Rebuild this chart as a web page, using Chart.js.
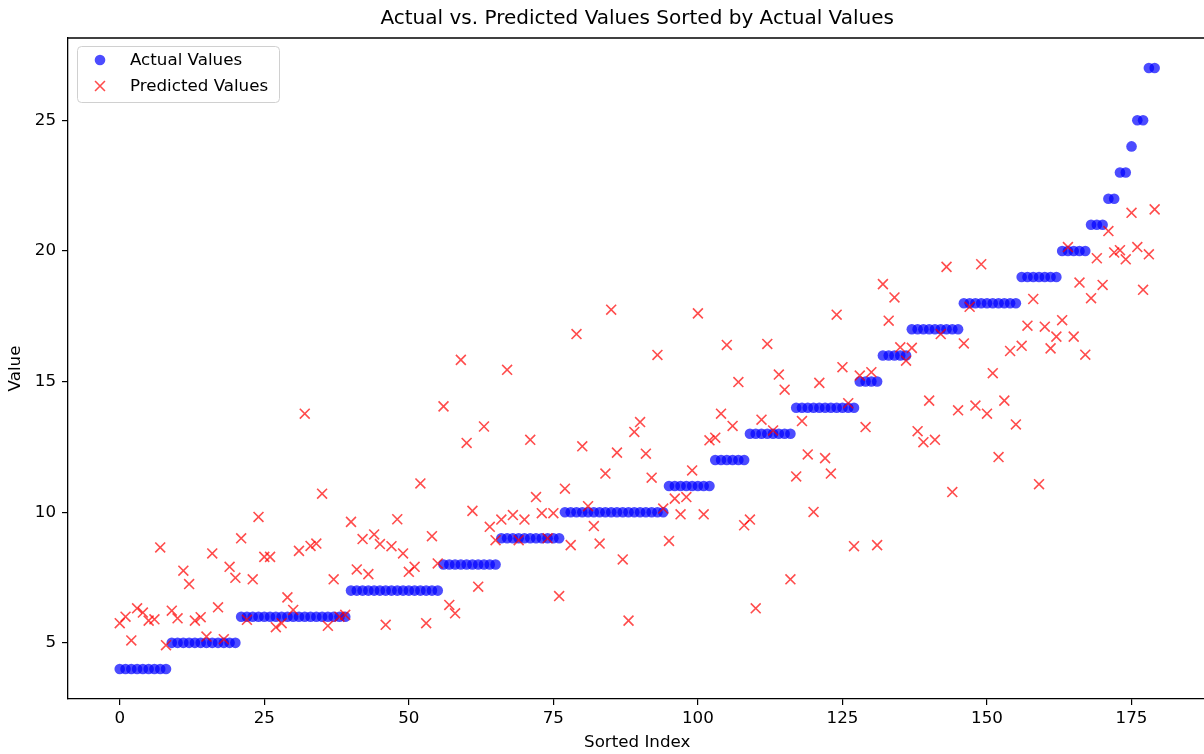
<!DOCTYPE html>
<html>
<head>
<meta charset="utf-8">
<script src="https://cdn.jsdelivr.net/npm/chart.js@4.4.1/dist/chart.umd.min.js"></script>
<style>
  html, body { margin: 0; padding: 0; background: #fff; overflow: hidden; }
  #wrap { position: absolute; left: 0; top: 0; width: 1215px; height: 754px; }
</style>
</head>
<body>
<div id="wrap"><canvas id="chart" width="1215" height="754"></canvas></div>
<script>
'use strict';

// Actual values, already sorted ascending (index = position in this array)
const actualValues = [
  4, 4, 4, 4, 4, 4, 4, 4, 4,
  5, 5, 5, 5, 5, 5, 5, 5, 5, 5, 5, 5,
  6, 6, 6, 6, 6, 6, 6, 6, 6, 6, 6, 6, 6, 6, 6, 6, 6, 6, 6,
  7, 7, 7, 7, 7, 7, 7, 7, 7, 7, 7, 7, 7, 7, 7, 7,
  8, 8, 8, 8, 8, 8, 8, 8, 8, 8,
  9, 9, 9, 9, 9, 9, 9, 9, 9, 9, 9,
  10, 10, 10, 10, 10, 10, 10, 10, 10, 10, 10, 10, 10, 10, 10, 10, 10, 10,
  11, 11, 11, 11, 11, 11, 11, 11,
  12, 12, 12, 12, 12, 12,
  13, 13, 13, 13, 13, 13, 13, 13,
  14, 14, 14, 14, 14, 14, 14, 14, 14, 14, 14,
  15, 15, 15, 15,
  16, 16, 16, 16, 16,
  17, 17, 17, 17, 17, 17, 17, 17, 17,
  18, 18, 18, 18, 18, 18, 18, 18, 18, 18,
  19, 19, 19, 19, 19, 19, 19,
  20, 20, 20, 20, 20,
  21, 21, 21,
  22, 22,
  23, 23,
  24,
  25, 25,
  27, 27,
];

// Predicted values in the same order
const predictedValues = [
  5.75, 6.00, 5.09, 6.32, 6.16, 5.85, 5.90, 8.65, 4.91, 6.23,
  5.94, 7.76, 7.25, 5.85, 5.98, 5.24, 8.42, 6.36, 5.14, 7.91,
  7.49, 9.00, 5.88, 7.43, 9.82, 8.29, 8.29, 5.60, 5.75, 6.74,
  6.26, 8.52, 13.77, 8.71, 8.80, 10.71, 5.65, 7.43, 6.00, 6.07,
  9.63, 7.81, 8.97, 7.63, 9.15, 8.78, 5.69, 8.70, 9.73, 8.42,
  7.72, 7.91, 11.10, 5.75, 9.08, 8.04, 14.05, 6.45, 6.13, 15.83,
  12.65, 10.05, 7.15, 13.28, 9.44, 8.93, 9.72, 15.45, 9.89, 8.93,
  9.72, 12.77, 10.58, 9.96, 9.00, 9.96, 6.79, 10.90, 8.74, 16.82,
  12.52, 10.23, 9.47, 8.80, 11.48, 17.75, 12.28, 8.19, 5.85, 13.07,
  13.45, 12.24, 11.32, 16.02, 10.14, 8.90, 10.52, 9.92, 10.58, 11.60,
  17.61, 9.92, 12.75, 12.85, 13.77, 16.40, 13.30, 14.98, 9.50, 9.72,
  6.32, 13.54, 16.44, 13.13, 15.27, 14.69, 7.43, 11.37, 13.49, 12.21,
  10.01, 14.95, 12.07, 11.48, 17.56, 15.55, 14.17, 8.70, 15.23, 13.26,
  15.36, 8.74, 18.73, 17.33, 18.22, 16.31, 15.80, 16.29, 13.10, 12.68,
  14.27, 12.77, 16.82, 19.39, 10.77, 13.90, 16.46, 17.86, 14.08, 19.49,
  13.77, 15.32, 12.11, 14.27, 16.17, 13.36, 16.37, 17.14, 18.16, 11.07,
  17.10, 16.27, 16.72, 17.35, 20.15, 16.72, 18.79, 16.03, 18.19, 19.72,
  18.70, 20.76, 19.94, 20.03, 19.68, 21.46, 20.15, 18.51, 19.87, 21.59,
];

const xTickValues = [0, 25, 50, 75, 100, 125, 150, 175];
const yTickValues = [5, 10, 15, 20, 25];

const FONT = 'DejaVu Sans';
const BLUE = 'rgba(0, 0, 255, 0.7)';
const RED  = 'rgba(255, 0, 0, 0.7)';

/** Draws the title, top spine and the framed legend the way matplotlib does. */
const decorations = {
  id: 'decorations',
  afterDraw(chart) {
    const { ctx, chartArea: a } = chart;
    ctx.save();

    // top spine
    ctx.strokeStyle = '#000';
    ctx.lineWidth = 1.3;
    ctx.beginPath();
    ctx.moveTo(a.left, a.top);
    ctx.lineTo(a.right, a.top);
    ctx.stroke();

    // title
    ctx.fillStyle = '#000';
    ctx.font = `20px "${FONT}"`;
    ctx.textAlign = 'center';
    ctx.textBaseline = 'middle';
    ctx.fillText('Actual vs. Predicted Values Sorted by Actual Values', (a.left + a.right) / 2, 19);

    // legend frame
    const lx = a.left + 9, ly = a.top + 8, lw = 202, lh = 56;
    ctx.beginPath();
    ctx.roundRect(lx + 0.5, ly + 0.5, lw, lh, 4);
    ctx.fillStyle = 'rgba(255, 255, 255, 0.8)';
    ctx.fill();
    ctx.strokeStyle = '#d0d0d0';
    ctx.lineWidth = 1;
    ctx.stroke();

    // legend entries
    ctx.font = `16.7px "${FONT}"`;
    ctx.textAlign = 'left';
    chart.data.datasets.forEach((ds, i) => {
      const cy = ly + 14 + i * 26;
      ctx.fillStyle = ds.backgroundColor;
      ctx.strokeStyle = ds.borderColor;
      ctx.lineWidth = ds.borderWidth;
      Chart.helpers.drawPoint(ctx, {
        pointStyle: ds.pointStyle,
        radius: ds.pointRadius,
        borderWidth: ds.borderWidth,
        rotation: 0,
      }, lx + 23, cy);
      ctx.fillStyle = '#000';
      ctx.fillText(ds.label, lx + 53, cy + 1);
    });

    ctx.restore();
  },
};

const tickFont = { family: FONT, size: 16.7 };

new Chart(document.getElementById('chart'), {
  type: 'scatter',
  data: {
    datasets: [
      {
        label: 'Actual Values',
        data: actualValues.map((v, i) => ({ x: i, y: v })),
        pointStyle: 'circle',
        pointRadius: 5.3,
        pointHoverRadius: 5.3,
        backgroundColor: BLUE,
        borderColor: BLUE,
        borderWidth: 0,
        order: 2,
      },
      {
        label: 'Predicted Values',
        data: predictedValues.map((v, i) => ({ x: i, y: v })),
        pointStyle: 'crossRot',
        pointRadius: 7,
        pointHoverRadius: 7,
        backgroundColor: RED,
        borderColor: RED,
        borderWidth: 1.6,
        order: 1,
      },
    ],
  },
  options: {
    responsive: false,
    devicePixelRatio: 1,
    animation: false,
    events: [],
    layout: { padding: { left: 0, top: 38, right: 7, bottom: 0 } },
    plugins: {
      legend: { display: false },
      title: { display: false },
      tooltip: { enabled: false },
    },
    scales: {
      x: {
        type: 'linear',
        min: -8.95,
        max: 187.95,
        afterFit: (scale) => { scale.height = 55; },
        afterBuildTicks: (scale) => { scale.ticks = xTickValues.map((v) => ({ value: v })); },
        ticks: { color: '#000', font: tickFont, padding: 4, maxRotation: 0 },
        grid: { display: true, drawOnChartArea: false, drawTicks: true, tickLength: 6, color: '#000', lineWidth: 1.2 },
        border: { display: true, color: '#000', width: 1.3 },
        title: { display: true, text: 'Sorted Index', color: '#000', font: tickFont, padding: { top: 0, bottom: 1 } },
      },
      y: {
        type: 'linear',
        min: 2.85,
        max: 28.15,
        afterFit: (scale) => { scale.width = 68; },
        afterBuildTicks: (scale) => { scale.ticks = yTickValues.map((v) => ({ value: v })); },
        ticks: { color: '#000', font: tickFont, padding: 6 },
        grid: { display: true, drawOnChartArea: false, drawTicks: true, tickLength: 6, color: '#000', lineWidth: 1.2 },
        border: { display: true, color: '#000', width: 1.3 },
        title: { display: true, text: 'Value', color: '#000', font: tickFont, padding: { top: 6, bottom: 0 } },
      },
    },
  },
  plugins: [decorations],
});
</script>
</body>
</html>
